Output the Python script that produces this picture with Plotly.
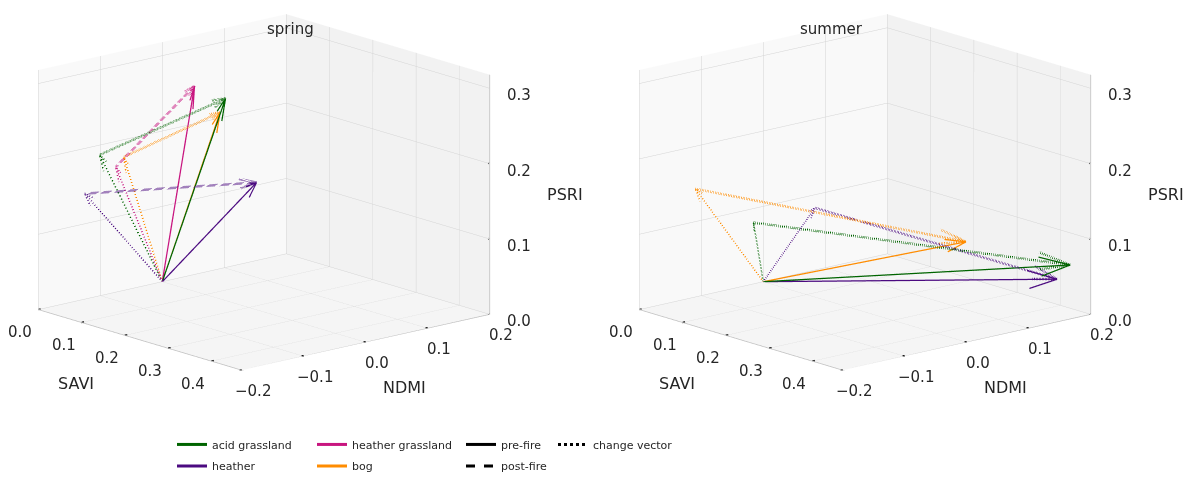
import numpy as np
import plotly.graph_objects as go

# ---------------- data ----------------
spring_classes = ["acid grassland", "heather grassland", "bog", "heather"]
spring_pre_savi = [0.192, 0.149, 0.165, 0.235]
spring_pre_ndmi = [-0.032, -0.052, -0.022, -0.012]
spring_pre_psri = [0.282, 0.295, 0.257, 0.174]
spring_post_savi = [0.063, 0.086, 0.090, 0.043]
spring_post_ndmi = [-0.145, -0.135, -0.125, -0.155]
spring_post_psri = [0.206, 0.192, 0.204, 0.153]

summer_classes = ["acid grassland", "bog", "heather"]
summer_pre_savi = [0.451, 0.285, 0.421]
summer_pre_ndmi = [0.18, 0.128, 0.18]
summer_pre_psri = [0.066, 0.078, 0.042]
summer_post_savi = [0.082, 0.048, 0.138]
summer_post_ndmi = [-0.073, -0.143, -0.013]
summer_post_psri = [0.106, 0.158, 0.124]

class_colors = {
    "acid grassland": "#006400",
    "heather": "#4B0A80",
    "heather grassland": "#C8157F",
    "bog": "#FF8C00",
}

savi_ticks = [0.0, 0.1, 0.2, 0.3, 0.4]
ndmi_ticks = [-0.2, -0.1, 0.0, 0.1, 0.2]
psri_ticks = [0.0, 0.1, 0.2, 0.3]
savi_range = [0.0, 0.47]
ndmi_range = [-0.2, 0.2]
psri_range = [0.0, 0.318]

ARROW_RATIO = 0.1
FONT = "DejaVu Sans"
TXT = "#262626"
BOX_SCALE = 1.52


def arrow_xyz(start, vec):
    """Shaft + two head barbs, following matplotlib's 3D quiver geometry."""
    start = np.asarray(start, float)
    v = np.asarray(vec, float)
    end = start + v
    norm = np.hypot(v[0], v[1])
    if norm > 0:
        xp, yp = v[1] / norm, -v[0] / norm
    else:
        xp, yp = 0.0, 1.0
    ang = np.radians(15)
    c, s = np.cos(ang), np.sin(ang)
    r13, r32, r12 = yp * s, xp * s, xp * yp * (1 - c)
    rpos = np.array([[c + xp**2 * (1 - c), r12, r13],
                     [r12, c + yp**2 * (1 - c), -r32],
                     [-r13, r32, c]])
    rneg = rpos.copy()
    for (i, j) in [(0, 1), (1, 2), (2, 0), (0, 2), (1, 0), (2, 1)]:
        rneg[i, j] *= -1
    h1 = end - ARROW_RATIO * (rpos @ v)
    h2 = end - ARROW_RATIO * (rneg @ v)
    pts = [start, end, None, end, h1, None, end, h2]
    xs = [p[0] if p is not None else None for p in pts]
    ys = [p[1] if p is not None else None for p in pts]
    zs = [p[2] if p is not None else None for p in pts]
    return xs, ys, zs


fig = go.Figure()


def add_frame(scene):
    smax, nmin, nmax, pmax = savi_range[1], ndmi_range[0], ndmi_range[1], psri_range[1]
    fig.add_trace(go.Scatter3d(
        x=[0, smax, smax, None, smax, smax],
        y=[nmin, nmin, nmax, None, nmax, nmax],
        z=[0, 0, 0, None, 0, pmax],
        mode="lines", scene=scene, line=dict(color="#bdbdbd", width=1.5),
        showlegend=False, hoverinfo="skip"))
    tx, ty, tz = [], [], []
    for s in savi_ticks:
        tx += [s, s, None]; ty += [nmin + 0.004, nmin - 0.015, None]; tz += [0, 0, None]
    for n in ndmi_ticks:
        tx += [smax - 0.005, smax + 0.02, None]; ty += [n, n, None]; tz += [0, 0, None]
    for p in psri_ticks:
        tx += [smax - 0.005, smax + 0.02, None]; ty += [nmax, nmax, None]; tz += [p, p, None]
    fig.add_trace(go.Scatter3d(
        x=tx, y=ty, z=tz, mode="lines", scene=scene,
        line=dict(color="black", width=3), showlegend=False, hoverinfo="skip"))


def add_panel(scene, classes, pre_s, pre_n, pre_p, post_s, post_n, post_p):
    add_frame(scene)
    for i, cl in enumerate(classes):
        col = class_colors[cl]
        pre = np.array([pre_s[i], pre_n[i], pre_p[i]])
        post = np.array([post_s[i], post_n[i], post_p[i]])
        origin = np.zeros(3)
        for start, vec, dash, w in [(post, pre - post, "dot", 5),
                                    (origin, post, "dash", 3),
                                    (origin, pre, "solid", 2.5)]:
            xs, ys, zs = arrow_xyz(start, vec)
            fig.add_trace(go.Scatter3d(
                x=xs, y=ys, z=zs, mode="lines", scene=scene,
                line=dict(color=col, width=w, dash=dash),
                showlegend=False, hoverinfo="skip"))


add_panel("scene", spring_classes, spring_pre_savi, spring_pre_ndmi, spring_pre_psri,
          spring_post_savi, spring_post_ndmi, spring_post_psri)
add_panel("scene2", summer_classes, summer_pre_savi, summer_pre_ndmi, summer_pre_psri,
          summer_post_savi, summer_post_ndmi, summer_post_psri)

# legend: 4 columns x 2 rows (column-major like the original)
legend_names = ["acid grassland", "heather", "heather grassland", "bog",
                "pre-fire", "post-fire", "change vector"]
legend_colors = [class_colors["acid grassland"], class_colors["heather"],
                 class_colors["heather grassland"], class_colors["bog"],
                 "black", "black", "black"]
legend_dashes = ["solid", "solid", "solid", "solid", "solid", "dash", "dot"]
legend_col_x = [172, 172, 312, 312, 461, 461, 553]
legend_row_y = [451, 473, 451, 473, 451, 473, 451]

legend_layouts = {}
for k, name in enumerate(legend_names):
    lg = "legend" if k == 0 else f"legend{k + 1}"
    fig.add_trace(go.Scatter3d(
        x=[None], y=[None], z=[None], mode="lines", scene="scene",
        name=name, line=dict(color=legend_colors[k], width=3, dash=legend_dashes[k]),
        legend=lg, showlegend=True))
    legend_layouts[lg] = dict(
        orientation="v", xanchor="left", yanchor="middle",
        x=legend_col_x[k] / 1189, y=1 - legend_row_y[k] / 481,
        font=dict(family=FONT, size=11, color=TXT),
        bgcolor="rgba(0,0,0,0)", itemwidth=30)


def axis_style(rng, ticks, bg):
    return dict(
        range=rng, tickvals=ticks, showticklabels=False, ticks="",
        showbackground=True, backgroundcolor=bg,
        gridcolor="#d4d4d4", gridwidth=1,
        showline=False, showspikes=False, zeroline=False,
        title=dict(text=""),
    )


def scene_annotations():
    smax, nmin, nmax = savi_range[1], ndmi_range[0], ndmi_range[1]
    ann = []
    f = dict(family=FONT, size=15, color=TXT)
    for s in savi_ticks:
        ann.append(dict(x=s, y=nmin, z=0, text=f"{s:.1f}", showarrow=False,
                        xshift=-18, yshift=-23, font=f))
    for n in ndmi_ticks:
        lab = f"{n:.1f}".replace("-", "\u2212")
        ann.append(dict(x=smax, y=n, z=0, text=lab, showarrow=False,
                        xshift=11, yshift=-21, font=f))
    for p in psri_ticks:
        ann.append(dict(x=smax, y=nmax, z=p, text=f"{p:.1f}", showarrow=False,
                        xshift=29, yshift=-7, font=f))
    ft = dict(family=FONT, size=16, color=TXT)
    ann.append(dict(x=0.1, y=nmin, z=0, text="SAVI", showarrow=False,
                    xshift=-6, yshift=-61, font=ft))
    ann.append(dict(x=smax, y=0.0, z=0, text="NDMI", showarrow=False,
                    xshift=39, yshift=-46, font=ft))
    ann.append(dict(x=smax, y=nmax, z=0.16, text="PSRI", showarrow=False,
                    xshift=75, yshift=-1, font=ft))
    return ann


def scene_layout(domain_x):
    eye_r = 1.25
    el, az = np.radians(15), np.radians(41)
    cz = -0.06
    return dict(
        domain=dict(x=domain_x, y=[0.14, 1.0]),
        xaxis=axis_style(savi_range, savi_ticks, "#f9f9f9"),
        yaxis=axis_style(ndmi_range, ndmi_ticks, "#f2f2f2"),
        zaxis=axis_style(psri_range, psri_ticks, "#f5f5f5"),
        aspectmode="manual",
        aspectratio=dict(x=1.0 * BOX_SCALE, y=1.06 * BOX_SCALE, z=0.80 * BOX_SCALE),
        camera=dict(
            eye=dict(x=eye_r * np.cos(el) * np.cos(az),
                     y=-eye_r * np.cos(el) * np.sin(az),
                     z=eye_r * np.sin(el) + cz),
            center=dict(x=0, y=0, z=cz),
            up=dict(x=0, y=0, z=1),
            projection=dict(type="orthographic"),
        ),
        annotations=scene_annotations(),
    )


fig.update_layout(
    width=1189, height=481,
    margin=dict(l=0, r=0, t=0, b=0),
    paper_bgcolor="white",
    font=dict(family=FONT, size=14, color=TXT),
    scene=scene_layout([2 / 1189, 526 / 1189]),
    scene2=scene_layout([603 / 1189, 1127 / 1189]),
    annotations=[
        dict(text="spring", x=265 / 1189, y=1 - 18 / 481, xref="paper", yref="paper",
             showarrow=False, font=dict(family=FONT, size=15, color=TXT)),
        dict(text="summer", x=865 / 1189, y=1 - 18 / 481, xref="paper", yref="paper",
             showarrow=False, font=dict(family=FONT, size=15, color=TXT)),
    ],
    **legend_layouts,
)

fig.write_html("out.html", config={"displayModeBar": False})
